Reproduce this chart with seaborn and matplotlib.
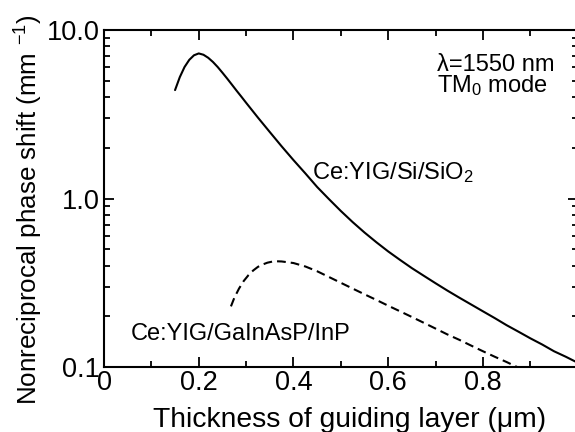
import matplotlib
matplotlib.use("Agg")
import matplotlib.pyplot as plt
import seaborn as sns
import pandas as pd
from matplotlib.ticker import MultipleLocator, FixedLocator, FixedFormatter, LogLocator, NullFormatter

# ---- data ----
si_thickness = [0.15, 0.16, 0.17, 0.18, 0.19, 0.20, 0.21, 0.22, 0.23, 0.24, 0.25, 0.26, 0.27,
                0.28, 0.29, 0.30, 0.325, 0.35, 0.375, 0.40, 0.425, 0.45, 0.475, 0.50, 0.525,
                0.55, 0.575, 0.60, 0.625, 0.65, 0.675, 0.70, 0.725, 0.75, 0.775, 0.80, 0.825,
                0.85, 0.875, 0.90, 0.925, 0.95, 0.975, 1.00]
si_shift = [4.40, 5.25, 6.03, 6.65, 7.08, 7.26, 7.13, 6.84, 6.46, 6.03, 5.58, 5.15, 4.74,
            4.36, 4.02, 3.70, 3.02, 2.48, 2.04, 1.69, 1.41, 1.17, 0.991, 0.843, 0.724,
            0.628, 0.550, 0.485, 0.432, 0.386, 0.348, 0.314, 0.284, 0.258, 0.235, 0.214, 0.195,
            0.177, 0.162, 0.148, 0.136, 0.124, 0.115, 0.106]

inp_thickness = [0.268, 0.275, 0.285, 0.295, 0.305, 0.315, 0.325, 0.335, 0.345, 0.355, 0.365,
                 0.375, 0.40, 0.425, 0.45, 0.475, 0.50, 0.525, 0.55, 0.575, 0.60, 0.625, 0.65,
                 0.675, 0.70, 0.725, 0.75, 0.775, 0.80, 0.825, 0.85, 0.872]
inp_shift = [0.229, 0.257, 0.292, 0.324, 0.351, 0.374, 0.393, 0.406, 0.416, 0.422, 0.424,
             0.423, 0.414, 0.395, 0.370, 0.342, 0.316, 0.292, 0.270, 0.250, 0.231, 0.214, 0.198,
             0.183, 0.169, 0.156, 0.145, 0.134, 0.124, 0.115, 0.107, 0.100]

x_ticks = [0, 0.2, 0.4, 0.6, 0.8]
x_ticklabels = ["0", "0.2", "0.4", "0.6", "0.8"]
y_ticks = [0.1, 1.0, 10.0]
y_ticklabels = ["0.1", "1.0", "10.0"]

label_si = "Ce:YIG/Si/SiO$_2$"
label_inp = "Ce:YIG/GaInAsP/InP"

# ---- style ----
sns.set_theme(style="ticks")
plt.rcParams["font.family"] = ["Liberation Sans", "DejaVu Sans"]
plt.rcParams["mathtext.default"] = "regular"
plt.rcParams["axes.linewidth"] = 1.5

fig = plt.figure(figsize=(5.75, 4.32), dpi=100)
ax = fig.add_axes([104 / 575, 1 - 367 / 432, 473.7 / 575, 337 / 432])

df_si = pd.DataFrame({"t": si_thickness, "s": si_shift})
df_inp = pd.DataFrame({"t": inp_thickness, "s": inp_shift})
sns.lineplot(data=df_si, x="t", y="s", ax=ax, color="black", lw=1.5, sort=False)
sns.lineplot(data=df_inp, x="t", y="s", ax=ax, color="black", lw=1.5, sort=False,
             linestyle=(0, (4.2, 2.4)))

ax.set_yscale("log")
ax.set_xlim(0, 1.0)
ax.set_ylim(0.1, 10.0)

ax.xaxis.set_major_locator(FixedLocator(x_ticks))
ax.xaxis.set_major_formatter(FixedFormatter(x_ticklabels))
ax.xaxis.set_minor_locator(MultipleLocator(0.1))
ax.yaxis.set_major_locator(FixedLocator(y_ticks))
ax.yaxis.set_major_formatter(FixedFormatter(y_ticklabels))
ax.yaxis.set_minor_locator(LogLocator(base=10, subs=range(2, 10)))
ax.yaxis.set_minor_formatter(NullFormatter())

for s in ax.spines.values():
    s.set_visible(True)
    s.set_linewidth(1.5)
    s.set_color("black")

ax.tick_params(which="both", direction="in", top=True, right=True, colors="black")
ax.tick_params(which="major", length=7, width=1.3, labelsize=19.5)
ax.tick_params(which="minor", length=4.5, width=1.3)
ax.tick_params(axis="x", which="major", pad=2)
ax.tick_params(axis="y", which="major", pad=3)

ax.set_xlabel("Thickness of guiding layer (\u03bcm)", fontsize=20.3, color="black")
ax.set_ylabel("Nonreciprocal phase shift (mm $^{-1}$)", fontsize=18.7, color="black")
ax.xaxis.label.set_va("baseline")
ax.xaxis.set_label_coords(0.519, -0.178)
ax.yaxis.label.set_va("center")
ax.yaxis.set_label_coords(-0.158, 0.466)

ax.text(0.44, 1.30, label_si, fontsize=17, ha="left", va="baseline", color="black")
ax.text(0.057, 0.145, label_inp, fontsize=17, ha="left", va="baseline", color="black")
ax.text(0.704, 5.73, "\u03bb=1550 nm", fontsize=17, ha="left", va="baseline", color="black")
ax.text(0.704, 4.26, "TM$_0$ mode", fontsize=17, ha="left", va="baseline", color="black")

ax.set_facecolor("white")
fig.patch.set_facecolor("white")
fig.savefig("out.png", dpi=100)
